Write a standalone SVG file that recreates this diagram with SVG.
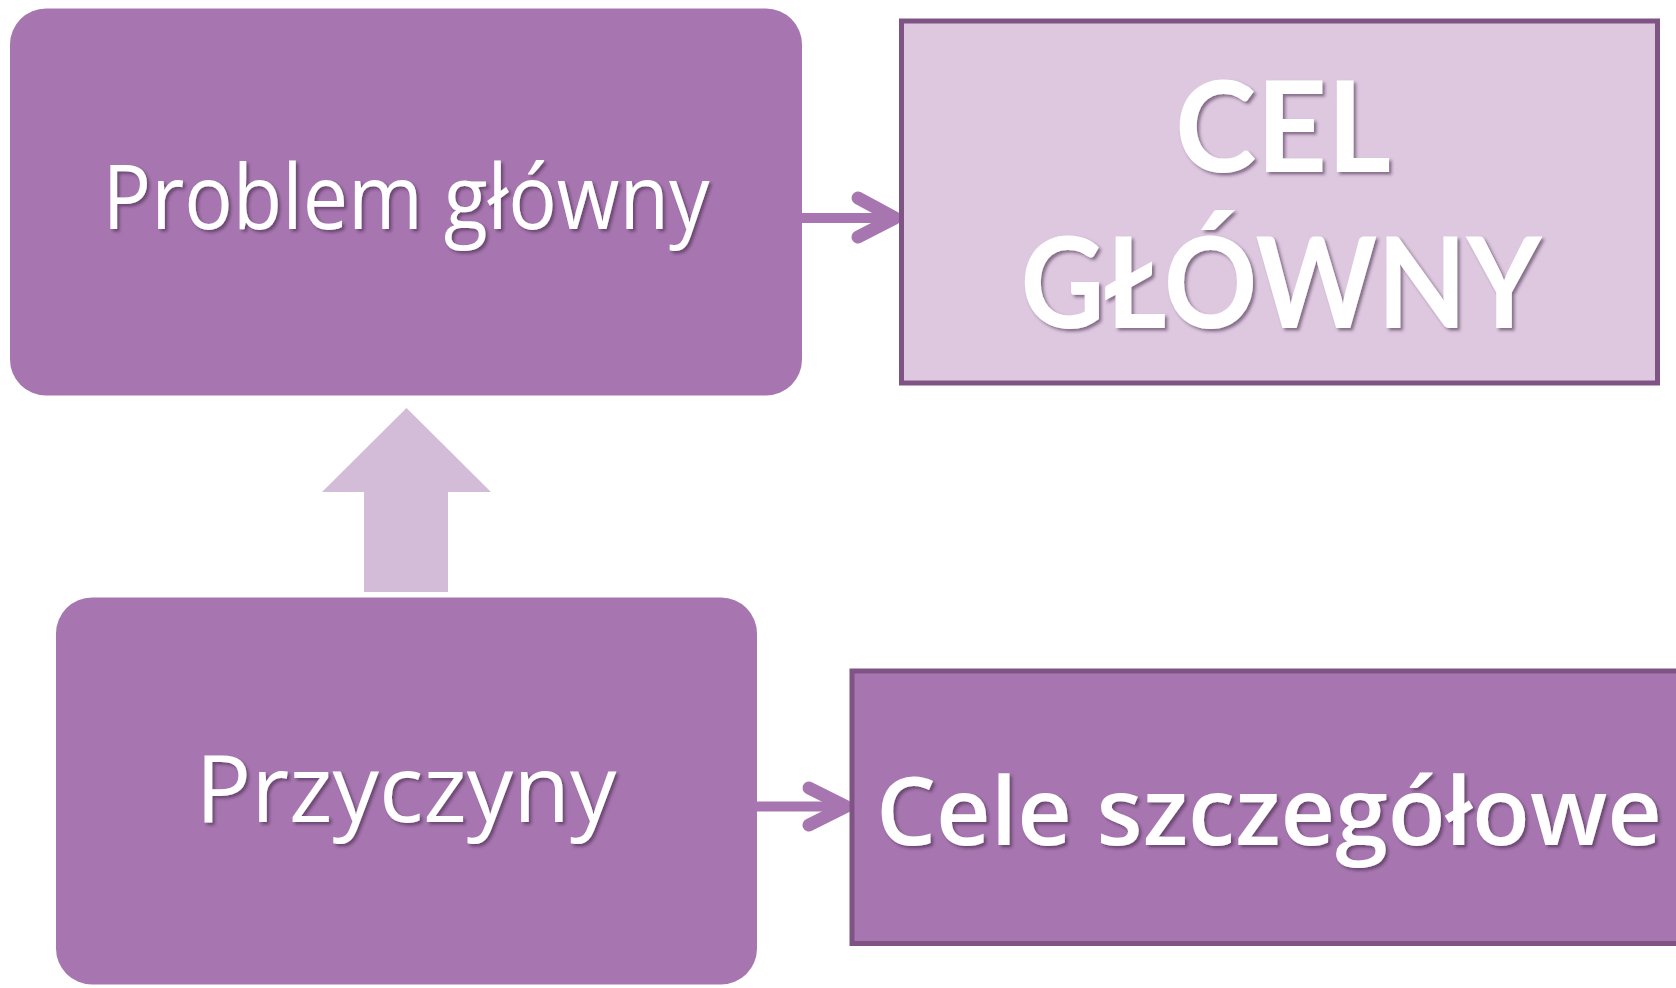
<svg xmlns="http://www.w3.org/2000/svg" width="1676" height="988" viewBox="0 0 1676 988">
<defs>
<style>
.box{fill:#a776b0}
.bord{stroke:#7f5485;stroke-width:5}
.t{fill:#fff;font-family:"Open Sans","Noto Sans",sans-serif;text-anchor:middle;filter:url(#sh)}
.tb{font-family:Lato,"Open Sans",sans-serif;font-weight:700;font-size:127px}
.conn{fill:none;stroke:#a776b0;stroke-linecap:round;stroke-linejoin:round}
</style>
<filter id="sh" x="-10%" y="-20%" width="120%" height="140%">
<feDropShadow dx="2.5" dy="2.5" stdDeviation="1.5" flood-color="#3a1f40" flood-opacity="0.55"/>
</filter>
</defs>
<rect width="1676" height="988" fill="#fff"/>
<g id="connectors">
<line class="conn" x1="802" y1="218" x2="893" y2="218" stroke-width="10" stroke-linecap="butt"/>
<polyline class="conn" points="858,198 895,218 858,237" stroke-width="13"/>
<line class="conn" x1="756" y1="806.5" x2="846" y2="806.5" stroke-width="10" stroke-linecap="butt"/>
<polyline class="conn" points="809,788 846,806.5 809,825" stroke-width="13"/>
<polygon points="406.5,408 491,492 448,492 448,592 364,592 364,492 322,492" fill="#d2bcd7"/>
</g>
<g id="problem">
<rect class="box" x="10" y="8.5" width="792" height="387" rx="36"/>
<text class="t" x="406" y="229" font-size="89" textLength="607" lengthAdjust="spacingAndGlyphs">Problem główny</text>
</g>
<g id="cel">
<rect x="901.5" y="21" width="756" height="362" fill="#ddc8df" class="bord"/>
<text class="t tb" x="1283" y="172" textLength="216" lengthAdjust="spacingAndGlyphs">CEL</text>
<text class="t tb" x="1281" y="328" textLength="521" lengthAdjust="spacingAndGlyphs">GŁÓWNY</text>
</g>
<g id="przyczyny">
<rect class="box" x="56" y="597.5" width="701" height="387" rx="36"/>
<text class="t" x="406" y="822" font-size="93" textLength="421" lengthAdjust="spacingAndGlyphs">Przyczyny</text>
</g>
<g id="cele">
<rect x="852" y="671" width="840" height="272.5" class="box bord"/>
<text class="t" x="1269" y="845" font-size="95" font-weight="600" textLength="786" lengthAdjust="spacingAndGlyphs">Cele szczegółowe</text>
</g>
</svg>
